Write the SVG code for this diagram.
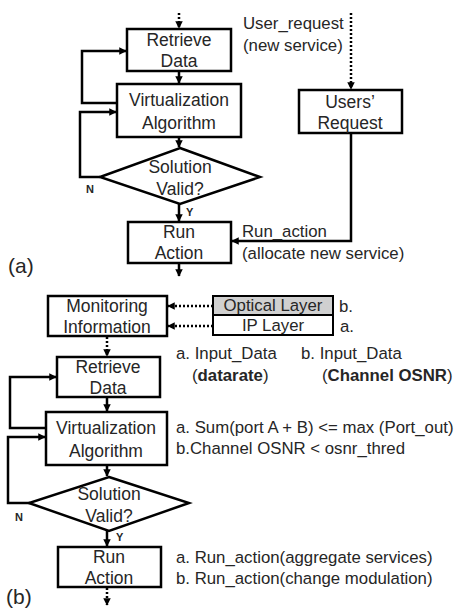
<svg xmlns="http://www.w3.org/2000/svg" width="456" height="608" viewBox="0 0 456 608">
<defs>
<marker id="ah" viewBox="0 0 10 10" refX="9" refY="5" markerWidth="3" markerHeight="3" orient="auto">
<path d="M0,0 L10,5 L0,10 z" fill="#000"/>
</marker>
<style>
.box{fill:#fff;stroke:#000;stroke-width:2.5}
.gray{fill:#d0d0d0;stroke:#000;stroke-width:2}
.thin{fill:#fff;stroke:#000;stroke-width:2}
.ln{fill:none;stroke:#000;stroke-width:2.5}
.dot{fill:none;stroke:#000;stroke-width:2.5;stroke-dasharray:2 2}
text{font-family:"Liberation Sans",Arial,sans-serif;fill:#262626}
.t{font-size:17.5px;text-anchor:middle}
.s{font-size:16.8px}
.yn{font-size:11px;font-weight:bold}
.lab{font-size:21px}
</style>
</defs>
<rect width="456" height="608" fill="#fff"/>

<g id="connectors">
<!-- (a) -->
<path class="dot" d="M179,13 V28" marker-end="url(#ah)"/>
<path class="ln" d="M179,71 V83" marker-end="url(#ah)"/>
<path class="ln" d="M117,103 H82 V51 H126" marker-end="url(#ah)"/>
<path class="ln" d="M100,177 H80 V112 H116" marker-end="url(#ah)"/>
<path class="ln" d="M179,137 V147" marker-end="url(#ah)"/>
<path class="ln" d="M179,204 V221" marker-end="url(#ah)"/>
<path class="ln" d="M179,264 V276" marker-end="url(#ah)"/>
<path class="dot" d="M351,13 V89" marker-end="url(#ah)"/>
<path class="ln" d="M351,133 V241 H232" marker-end="url(#ah)"/>
<!-- (b) -->
<path class="dot" d="M213,306 H168" marker-end="url(#ah)"/>
<path class="dot" d="M213,326 H168" marker-end="url(#ah)"/>
<path class="dot" d="M107,337 V356" marker-end="url(#ah)"/>
<path class="ln" d="M107,397 V411" marker-end="url(#ah)"/>
<path class="ln" d="M46,428 H10 V377 H56" marker-end="url(#ah)"/>
<path class="ln" d="M30,503 H8 V437 H45" marker-end="url(#ah)"/>
<path class="ln" d="M107,465 V476" marker-end="url(#ah)"/>
<path class="ln" d="M107,531 V546" marker-end="url(#ah)"/>
<path class="dot" d="M107,588 V605" marker-end="url(#ah)"/>
</g>

<!-- (a) nodes -->
<g id="a_retrieve">
<rect class="box" x="127" y="29" width="104" height="42"/>
<text class="t" x="179" y="46">Retrieve</text>
<text class="t" x="179" y="67">Data</text>
</g>
<g id="a_virtualization">
<rect class="box" x="117" y="84" width="124" height="53"/>
<text class="t" x="179" y="106">Virtualization</text>
<text class="t" x="179" y="129">Algorithm</text>
</g>
<g id="a_solution">
<polygon class="box" points="180,148 260,177 180,204 100,177"/>
<text class="t" x="180" y="173">Solution</text>
<text class="t" x="180" y="195">Valid?</text>
<text class="yn" x="86" y="193">N</text>
<text class="yn" x="186" y="216">Y</text>
</g>
<g id="a_run">
<rect class="box" x="128" y="222" width="103" height="41"/>
<text class="t" x="179" y="238">Run</text>
<text class="t" x="179" y="259">Action</text>
</g>
<g id="a_users">
<rect class="box" x="299" y="90" width="103" height="43"/>
<text class="t" x="350" y="108">Users’</text>
<text class="t" x="350" y="129">Request</text>
</g>
<g id="a_labels">
<text class="s" x="243" y="29">User_request</text>
<text class="s" x="243" y="51">(new service)</text>
<text class="s" x="242" y="237">Run_action</text>
<text class="s" x="242" y="259">(allocate new service)</text>
<text class="lab" x="8" y="273">(a)</text>
</g>

<!-- (b) nodes -->
<g id="b_monitoring">
<rect class="box" x="48" y="296" width="119" height="40"/>
<text class="t" x="107" y="312">Monitoring</text>
<text class="t" x="107" y="333">Information</text>
</g>
<g id="b_optical">
<rect class="gray" x="213" y="296" width="120" height="19"/>
<text class="s" x="273" y="311" text-anchor="middle">Optical Layer</text>
<text class="s" x="339" y="312">b.</text>
</g>
<g id="b_ip">
<rect class="thin" x="213" y="315" width="120" height="20"/>
<text class="s" x="273" y="331" text-anchor="middle">IP Layer</text>
<text class="s" x="340" y="332">a.</text>
</g>
<g id="b_retrieve">
<rect class="box" x="57" y="357" width="103" height="40"/>
<text class="t" x="108" y="373">Retrieve</text>
<text class="t" x="108" y="394">Data</text>
</g>
<g id="b_virtualization">
<rect class="box" x="46" y="412" width="121" height="53"/>
<text class="t" x="106" y="434">Virtualization</text>
<text class="t" x="106" y="457">Algorithm</text>
</g>
<g id="b_solution">
<polygon class="box" points="109,477 189,503 109,531 29,503"/>
<text class="t" x="109" y="500">Solution</text>
<text class="t" x="109" y="522">Valid?</text>
<text class="yn" x="15" y="521">N</text>
<text class="yn" x="116" y="541">Y</text>
</g>
<g id="b_run">
<rect class="box" x="58" y="547" width="103" height="40"/>
<text class="t" x="109" y="563">Run</text>
<text class="t" x="109" y="584">Action</text>
</g>
<g id="b_labels">
<text class="s" x="176" y="359">a. Input_Data</text>
<text class="s" x="192" y="381">(<tspan font-weight="bold">datarate</tspan>)</text>
<text class="s" x="301" y="359">b. Input_Data</text>
<text class="s" x="322" y="381">(<tspan font-weight="bold">Channel OSNR</tspan>)</text>
<text class="s" x="176" y="433">a. Sum(port A + B) &lt;= max (Port_out)</text>
<text class="s" x="176" y="454">b.Channel OSNR &lt; osnr_thred</text>
<text class="s" x="176" y="563">a. Run_action(aggregate services)</text>
<text class="s" x="176" y="584">b. Run_action(change modulation)</text>
<text class="lab" x="6" y="604">(b)</text>
</g>
</svg>
